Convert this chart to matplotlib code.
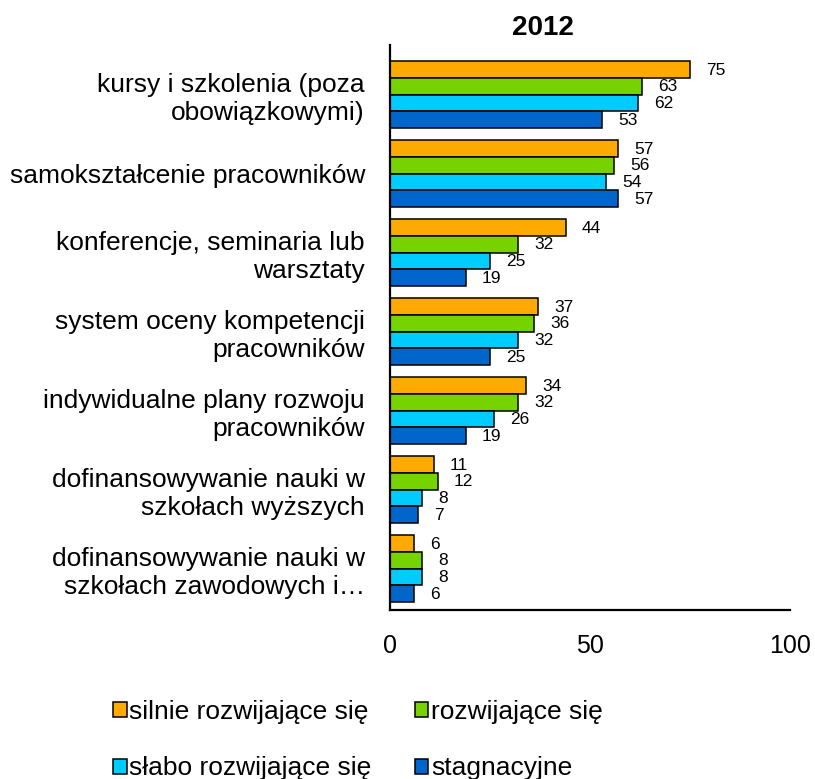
import numpy as np
import matplotlib
matplotlib.use("Agg")
import matplotlib.pyplot as plt

plt.rcParams['font.family'] = ['Liberation Sans', 'DejaVu Sans']

# data
categories = [
    "kursy i szkolenia (poza\nobowiązkowymi)",
    "samokształcenie pracowników",
    "konferencje, seminaria lub\nwarsztaty",
    "system oceny kompetencji\npracowników",
    "indywidualne plany rozwoju\npracowników",
    "dofinansowywanie nauki w\nszkołach wyższych",
    "dofinansowywanie nauki w\nszkołach zawodowych i…",
]
series_names = ["silnie rozwijające się", "rozwijające się",
                "słabo rozwijające się", "stagnacyjne"]
silnie = [75, 57, 44, 37, 34, 11, 6]
rozwij = [63, 56, 32, 36, 32, 12, 8]
slabo = [62, 54, 25, 32, 26, 8, 8]
stagn = [53, 57, 19, 25, 19, 7, 6]
colors = ["#FFAA00", "#77D300", "#00CCFF", "#0066CC"]

fig = plt.figure(figsize=(8.15, 7.79), dpi=100)
ax = fig.add_axes([390/815, 1-610/779, 400/815, 565/779])

h = 0.211
y = np.arange(len(categories))
handles = []
for i, vals in enumerate([silnie, rozwij, slabo, stagn]):
    pos = y - 1.5*h + i*h
    b = ax.barh(pos, vals, height=h, color=colors[i], edgecolor="black",
                linewidth=1.1, label=series_names[i])
    handles.append(b)
    for p, v in zip(pos, vals):
        ax.annotate(str(v), (v, p), xytext=(11.5, -0.5), textcoords="offset points",
                    ha="left", va="center", fontsize=12.5)

ax.set_xlim(0, 100)
ax.set_ylim(6.525, -0.627)
ax.set_xticks([0, 50, 100])
ax.set_yticks(y)
ax.set_yticklabels(categories, fontsize=19, linespacing=1.2)
ax.tick_params(axis="x", length=0, pad=17, labelsize=18)
ax.tick_params(axis="y", length=0, pad=18)
for s in ["top", "right"]:
    ax.spines[s].set_visible(False)
for s in ["left", "bottom"]:
    ax.spines[s].set_linewidth(1.6)

fig.text(543/815, 1-28/779, "2012", ha="center", va="center",
         fontsize=20, fontweight="bold")

# legend fills by column, so reorder to get rows like the original
order = [0, 2, 1, 3]
fig.legend(handles=[handles[k] for k in order], loc="center",
           bbox_to_anchor=(358/815, 1-740/779),
           ncol=2, frameon=False, fontsize=19, handlelength=0.5, handleheight=0.5,
           handletextpad=0.1, columnspacing=1.65, labelspacing=1.25)

fig.savefig("out.png", dpi=100)
